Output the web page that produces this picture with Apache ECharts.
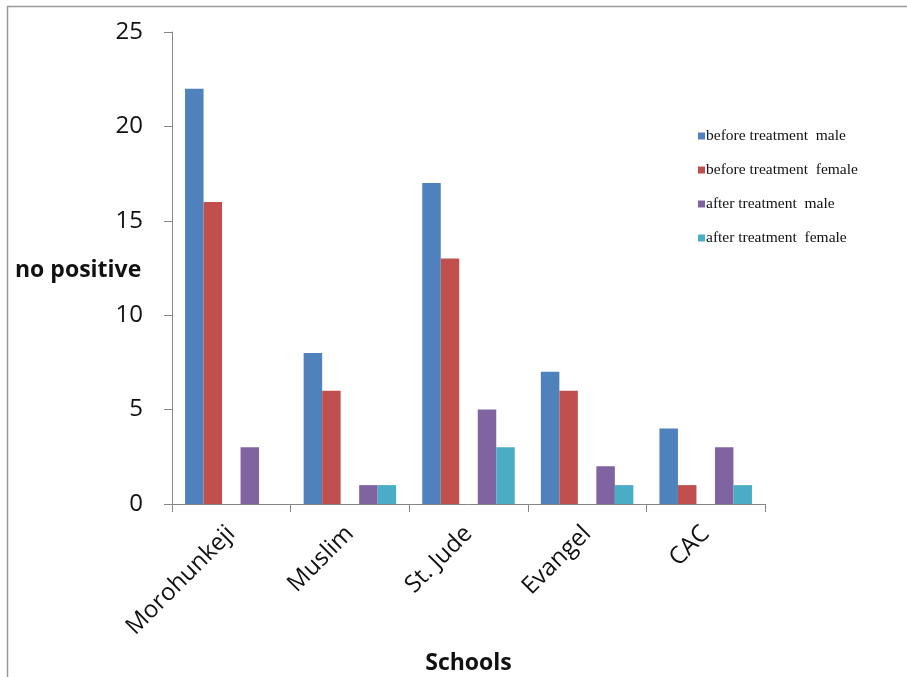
<!DOCTYPE html>
<html>
<head>
<meta charset="utf-8">
<script src="https://cdn.jsdelivr.net/npm/echarts@6/dist/echarts.min.js"></script>
<style>
html,body{margin:0;padding:0;background:#fff;}
#chart{width:907px;height:677px;}
</style>
</head>
<body>
<div id="chart"></div>
<script>
const categories = ['Morohunkeji', 'Muslim', 'St. Jude', 'Evangel', 'CAC'];
const seriesNames = ['before treatment  male', 'before treatment  female', 'after treatment  male', 'after treatment  female'];
const beforeMale = [22, 8, 17, 7, 4];
const beforeFemale = [16, 6, 13, 6, 1];
const afterMale = [3, 1, 5, 2, 3];
const afterFemale = [0, 1, 3, 1, 1];
const yTicks = [0, 5, 10, 15, 20, 25];
const yTitle = 'no positive';
const xTitle = 'Schools';
const colors = ['#4F81BD', '#C0504D', '#8064A2', '#4BACC6'];

const chart = echarts.init(document.getElementById('chart'), null, {renderer: 'canvas'});

const values = [beforeMale, beforeFemale, afterMale, afterFemale];
const series = [];
values.forEach((d, i) => {
  if (i === 2) {
    series.push({name: 'spacer', type: 'bar', data: categories.map(() => null), silent: true, barGap: '0%', barCategoryGap: '22%'});
  }
  series.push({
    name: seriesNames[i], type: 'bar', data: d,
    itemStyle: {color: colors[i]},
    barGap: '0%', barCategoryGap: '22%'
  });
});

chart.setOption({
  animation: false,
  backgroundColor: '#fff',
  grid: {left: 172, top: 32, right: 142, bottom: 173, containLabel: false, outerBoundsMode: 'none'},
  legend: {
    data: seriesNames,
    orient: 'vertical',
    left: 693, top: 123,
    itemWidth: 7, itemHeight: 7, itemGap: 18,
    icon: 'rect',
    textStyle: {fontFamily: 'Liberation Serif', fontSize: 15.5, color: '#111', padding: [0, 0, 0, -4]}
  },
  xAxis: {
    type: 'category', data: categories,
    name: xTitle, nameLocation: 'middle', nameGap: 148,
    nameTextStyle: {fontFamily: 'Open Sans', fontWeight: 'bold', fontSize: 23, color: '#111'},
    axisLine: {lineStyle: {color: '#868686', width: 1}},
    axisTick: {show: true, length: 8, lineStyle: {color: '#868686'}},
    axisLabel: {rotate: 45, fontFamily: 'Open Sans', fontSize: 24, color: '#111', margin: 26}
  },
  yAxis: {
    type: 'value', min: 0, max: 25, interval: 5,
    axisLine: {show: true, lineStyle: {color: '#868686', width: 1}},
    axisTick: {show: true, length: 8, lineStyle: {color: '#868686'}},
    splitLine: {show: false},
    axisLabel: {fontFamily: 'Open Sans', fontSize: 24, color: '#111', margin: 29,
      formatter: v => yTicks.includes(v) ? String(v) : ''}
  },
  graphic: [
    {type: 'line', shape: {x1: 7.5, y1: 6, x2: 7.5, y2: 677}, style: {stroke: '#999', lineWidth: 1.5}},
    {type: 'line', shape: {x1: 7, y1: 6.5, x2: 907, y2: 6.5}, style: {stroke: '#999', lineWidth: 1.5}},
    {type: 'text', left: 15, top: 259, style: {text: yTitle, font: 'bold 23px "Open Sans"', fill: '#111'}}
  ],
  series: series
});
</script>
</body>
</html>
